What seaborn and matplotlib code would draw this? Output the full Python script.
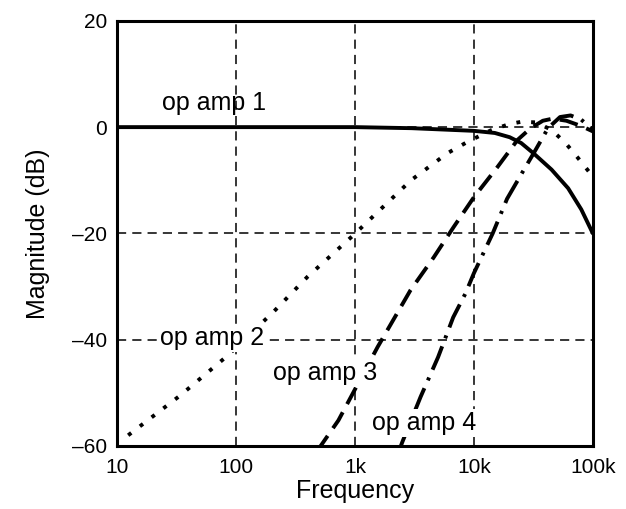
import pandas as pd
import seaborn as sns
import matplotlib.pyplot as plt

# frequency (Hz) / magnitude (dB)
f1 = [10, 100, 1000, 3000, 10000, 15000, 20000, 25000, 32000, 45000, 62000, 80000, 100000]
m1 = [0, 0, 0, -0.2, -0.7, -1.1, -1.9, -3.0, -5.0, -8.0, -11.5, -15.5, -20.0]

f2 = [12.4, 34, 84, 206, 398, 975, 2960, 6000, 8800, 13900, 20000, 25000, 33000, 45000, 60000, 75000, 100000]
m2 = [-58.0, -50.5, -43.1, -34.8, -28.2, -20.3, -10.0, -4.9, -2.8, -0.6, 0.6, 1.0, 0.9, -0.5, -3.2, -5.8, -9.3]

f3 = [480, 726, 1550, 2930, 4600, 6760, 10000, 15800, 23300, 30000, 38000, 46000, 60000, 80000, 100000]
m3 = [-61.0, -55.2, -41.4, -30.7, -24.5, -18.8, -13.2, -7.5, -2.4, -0.2, 1.2, 1.6, 1.2, 0.2, -0.8]

f4 = [2300, 2500, 3560, 5000, 6700, 8500, 10000, 14400, 19000, 25600, 33000, 42000, 53000, 65000, 80000, 100000]
m4 = [-61.5, -59.3, -50.8, -43.3, -35.8, -31.3, -27.5, -20.0, -13.5, -8.5, -4.3, -0.2, 1.9, 2.2, 1.4, -0.5]

names = ["op amp 1", "op amp 2", "op amp 3", "op amp 4"]

x_ticks = [10, 100, 1000, 10000, 100000]
x_labels = ["10", "100", "1k", "10k", "100k"]
y_ticks = [-60, -40, -20, 0, 20]
y_labels = ["\u201360", "\u201340", "\u201320", "0", "20"]

# label anchors (freq, dB)
lab_f = [24, 23, 205, 1400]
lab_m = [4.5, -39.7, -46.3, -55.6]

df = pd.concat([
    pd.DataFrame({"freq": f, "mag": m, "curve": n})
    for f, m, n in zip([f1, f2, f3, f4], [m1, m2, m3, m4], names)
])

sns.set_style("white")
plt.rcParams["font.family"] = ["Liberation Sans", "DejaVu Sans"]
plt.rcParams["text.color"] = "black"
plt.rcParams["axes.labelcolor"] = "black"
plt.rcParams["xtick.color"] = "black"
plt.rcParams["ytick.color"] = "black"

fig = plt.figure(figsize=(6.26, 5.09), dpi=100)
ax = fig.add_axes([0.187, 0.124, 0.760, 0.835])

dash_map = {
    "op amp 1": "",
    "op amp 2": (1.0, 2.8),
    "op amp 3": (4.8, 2.4),
    "op amp 4": (6.5, 2.2, 0.8, 2.2),
}
sns.lineplot(data=df, x="freq", y="mag", hue="curve", style="curve",
             dashes=dash_map, palette=["black"] * 4, linewidth=2.8,
             sort=False, legend=False, ax=ax)

ax.set_xscale("log")
ax.set_xlim(10, 100000)
ax.set_ylim(-60, 20)
ax.set_xticks(x_ticks)
ax.set_xticklabels(x_labels, fontsize=15)
ax.set_yticks(y_ticks)
ax.set_yticklabels(y_labels, fontsize=15)
ax.minorticks_off()
ax.tick_params(axis="x", length=0, pad=9)
ax.tick_params(axis="y", length=0, pad=7)
ax.grid(True, color="black", linestyle=(0, (6, 4)), linewidth=1.1)
for s in ax.spines.values():
    s.set_color("black")
    s.set_linewidth(2.2)

ax.set_xlabel("Frequency", fontsize=18, labelpad=1)
ax.set_ylabel("Magnitude (dB)", fontsize=18, labelpad=16)

for i, (lf, lm, n) in enumerate(zip(lab_f, lab_m, names)):
    box = None if i == 0 else dict(facecolor="white", edgecolor="none", pad=1.5)
    ax.text(lf, lm, n, fontsize=18, ha="left", va="center", bbox=box, zorder=5)

fig.savefig("out.png", dpi=100)
